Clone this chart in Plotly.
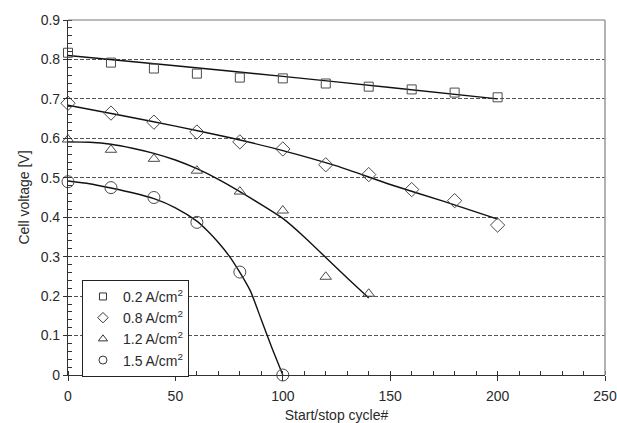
import plotly.graph_objects as go

# Measured cell voltage at each start/stop cycle count
cycles = [0, 20, 40, 60, 80, 100, 120, 140, 160, 180, 200]
v_02 = [0.817, 0.792, 0.777, 0.764, 0.754, 0.752, 0.739, 0.731, 0.724, 0.716, 0.704]
v_08 = [0.689, 0.664, 0.641, 0.616, 0.591, 0.573, 0.533, 0.508, 0.470, 0.442, 0.380]
cycles_12 = [0, 20, 40, 60, 80, 100, 120, 140]
v_12 = [0.597, 0.571, 0.548, 0.518, 0.465, 0.417, 0.249, 0.206]
cycles_15 = [0, 20, 40, 60, 80, 100]
v_15 = [0.490, 0.475, 0.450, 0.387, 0.261, 0.0]

# Trend curves drawn through each data set
fit_x_02 = [0, 50, 100, 150, 200]
fit_v_02 = [0.810, 0.784, 0.757, 0.729, 0.700]
fit_x_08 = [0, 25, 50, 75, 100, 125, 150, 175, 200]
fit_v_08 = [0.684, 0.658, 0.631, 0.602, 0.569, 0.530, 0.483, 0.440, 0.395]
fit_x_12 = [0, 10, 20, 30, 40, 50, 60, 70, 80, 90, 100, 110, 120, 130, 140]
fit_v_12 = [0.591, 0.590, 0.585, 0.575, 0.562, 0.545, 0.523, 0.496, 0.465, 0.432, 0.397, 0.350, 0.298, 0.246, 0.195]
fit_x_15 = [0, 10, 20, 30, 40, 50, 60, 65, 70, 75, 80, 85, 90, 95, 100]
fit_v_15 = [0.492, 0.485, 0.474, 0.462, 0.447, 0.424, 0.390, 0.365, 0.336, 0.302, 0.260, 0.212, 0.140, 0.068, 0.0]

labels = ["0.2 A/cm<sup>2</sup>", "0.8 A/cm<sup>2</sup>",
          "1.2 A/cm<sup>2</sup>", "1.5 A/cm<sup>2</sup>"]

y_ticks = [0, 0.1, 0.2, 0.3, 0.4, 0.5, 0.6, 0.7, 0.8, 0.9]
y_tick_text = ["0", "0.1", "0.2", "0.3", "0.4", "0.5", "0.6", "0.7", "0.8", "0.9"]
x_ticks = [0, 50, 100, 150, 200, 250]

FONT = "Liberation Sans, Arial, sans-serif"
MARK = "#4a4a4a"
TXT = "#2a2a2a"

fig = go.Figure()

series = [
    (cycles, v_02, fit_x_02, fit_v_02, "square-open", 9, 7),
    (cycles, v_08, fit_x_08, fit_v_08, "diamond-open", 11, 8),
    (cycles_12, v_12, fit_x_12, fit_v_12, "triangle-up-open", 10, 8),
    (cycles_15, v_15, fit_x_15, fit_v_15, "circle-open", 12, 8),
]

for s in series:
    fig.add_trace(go.Scatter(
        x=s[2], y=s[3], mode="lines", showlegend=False,
        line=dict(color="#111111", width=1.4, shape="spline", smoothing=0.6),
        hoverinfo="skip", cliponaxis=False,
    ))

for (x, v, _, _, sym, size, lsize), name in zip(series, labels):
    fig.add_trace(go.Scatter(
        x=x, y=v, mode="markers", name=name, showlegend=False,
        marker=dict(symbol=sym, size=size, color=MARK, line=dict(width=1, color=MARK)),
        cliponaxis=False,
    ))
    # legend entry with the smaller key symbol
    fig.add_trace(go.Scatter(
        x=[None], y=[None], mode="markers", name=name,
        marker=dict(symbol=sym, size=lsize, color="#333333", line=dict(width=1, color="#333333")),
    ))

# gray frame on top and right edges of the plotting area
fig.add_shape(type="line", xref="x domain", yref="y domain", x0=0, x1=1, y0=1, y1=1,
              line=dict(color="#777777", width=1.2))
fig.add_shape(type="line", xref="x domain", yref="y domain", x0=1, x1=1, y0=0, y1=1,
              line=dict(color="#999999", width=1.5))

fig.update_layout(
    width=617, height=423,
    margin=dict(l=68, r=12, t=17, b=48),
    paper_bgcolor="white", plot_bgcolor="white",
    font=dict(family=FONT, size=14, color=TXT),
    legend=dict(
        x=0.026, y=0.268, xanchor="left", yanchor="top",
        bgcolor="white", bordercolor="#222222", borderwidth=1,
        font=dict(family=FONT, size=14, color=TXT),
        itemsizing="trace", itemwidth=30, tracegroupgap=0,
    ),
    xaxis=dict(
        range=[0, 250], tickvals=x_ticks, ticktext=[str(t) for t in x_ticks],
        showgrid=False, zeroline=False, automargin=False,
        showline=True, linecolor="#333333", linewidth=1.2,
        ticks="outside", ticklen=5, tickcolor="#333333", ticklabelstandoff=3,
        minor=dict(dtick=10, ticks="inside", ticklen=4, tickcolor="#333333", showgrid=False),
        title=dict(text="Start/stop cycle#", font=dict(size=14, color=TXT)),
        tickfont=dict(size=14, color=TXT),
    ),
    yaxis=dict(
        range=[0, 0.9], tickvals=y_ticks, ticktext=y_tick_text,
        showgrid=True, gridcolor="#555555", griddash="4px,2px", gridwidth=1,
        zeroline=False, automargin=True,
        showline=True, linecolor="#333333", linewidth=1.2,
        ticks="outside", ticklen=4, tickcolor="#333333",
        minor=dict(dtick=0.02, ticks="inside", ticklen=4, tickcolor="#333333", showgrid=False),
        title=dict(text="Cell voltage [V]", font=dict(size=14, color=TXT), standoff=7),
        tickfont=dict(size=14, color=TXT),
    ),
)

fig.write_html("out.html")
